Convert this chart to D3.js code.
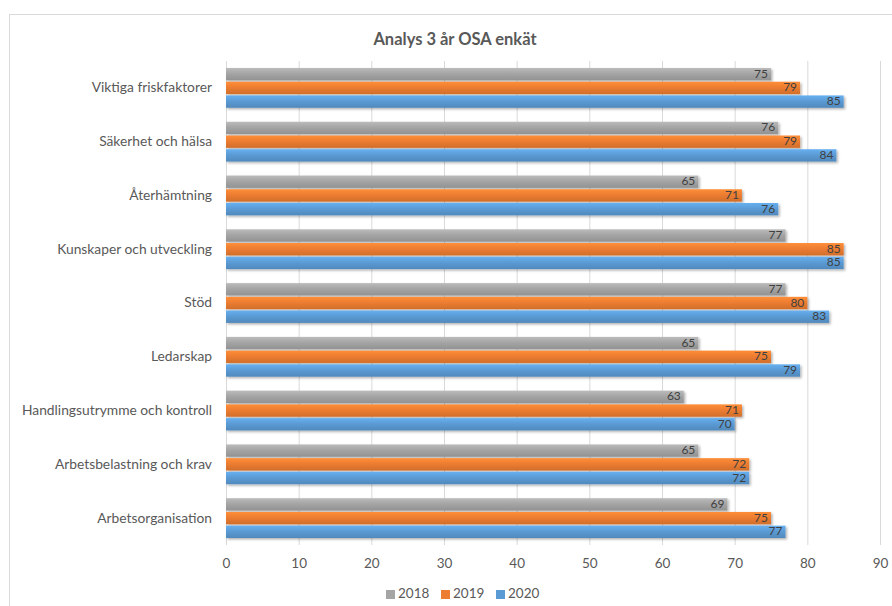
<!DOCTYPE html>
<html><head><meta charset="utf-8">
<script src="https://cdn.jsdelivr.net/npm/d3@7"></script>
<style>
html,body{margin:0;padding:0;background:#fff;}
svg{display:block;font-family:Lato,"Open Sans",sans-serif;}
</style></head>
<body>
<svg id="c" width="892" height="606"></svg>
<script>
const categories = ["Viktiga friskfaktorer","Säkerhet och hälsa","Återhämtning","Kunskaper och utveckling","Stöd","Ledarskap","Handlingsutrymme och kontroll","Arbetsbelastning och krav","Arbetsorganisation"];
const seriesNames = ["2018","2019","2020"];
const values2018 = [75,76,65,77,77,65,63,65,69];
const values2019 = [79,79,71,85,80,75,71,72,75];
const values2020 = [85,84,76,85,83,79,70,72,77];
const xTicks = [0,10,20,30,40,50,60,70,80,90];
const title = "Analys 3 år OSA enkät";

const colors = {"2018":"#a5a5a5","2019":"#ed7d31","2020":"#5b9bd5"};
const seriesValues = {"2018":values2018,"2019":values2019,"2020":values2020};

const svg = d3.select("#c");
svg.append("rect").attr("x",9.5).attr("y",14.5).attr("width",900).attr("height",620)
  .attr("fill","#fff").attr("stroke","#d9d9d9");

const defs = svg.append("defs");
seriesNames.forEach(s=>{
  const c = d3.color(colors[s]);
  const g = defs.append("linearGradient").attr("id","g"+s).attr("x1",0).attr("y1",0).attr("x2",0).attr("y2",1);
  g.append("stop").attr("offset","0%").attr("stop-color",c.brighter(0.35));
  g.append("stop").attr("offset","45%").attr("stop-color",c);
  g.append("stop").attr("offset","100%").attr("stop-color",c.darker(0.35));
});
const f = defs.append("filter").attr("id","sh").attr("x","-5%").attr("y","-30%").attr("width","110%").attr("height","170%");
f.append("feDropShadow").attr("dx",1.5).attr("dy",1.5).attr("stdDeviation",1).attr("flood-color","#000").attr("flood-opacity",0.3);

const x = d3.scaleLinear().domain([0,90]).range([226,880]);
const y = d3.scaleBand().domain(categories).range([61,545]).paddingInner(0.26).paddingOuter(0.13);
const ys = d3.scaleBand().domain(seriesNames).range([0,y.bandwidth()]).paddingInner(0.1);

svg.append("text").attr("x",455).attr("y",45).attr("text-anchor","middle")
  .attr("font-size",16.5).attr("font-weight","bold").attr("fill","#595959").text(title);

svg.append("g").selectAll("line").data(xTicks).join("line")
  .attr("x1",d=>x(d)+0.5).attr("x2",d=>x(d)+0.5).attr("y1",61).attr("y2",545)
  .attr("stroke","#d9d9d9").attr("stroke-width",1);

const xa = svg.append("g").attr("transform","translate(0,545)")
  .call(d3.axisBottom(x).tickValues(xTicks).tickSize(0).tickPadding(13));
xa.select(".domain").remove();
xa.selectAll("text").attr("font-size",13.5).attr("fill","#595959").attr("font-family","Lato,'Open Sans',sans-serif");

const ya = svg.append("g").attr("transform","translate(226,0)")
  .call(d3.axisLeft(y).tickSize(0).tickPadding(14));
ya.select(".domain").remove();
ya.selectAll("text").attr("font-size",13.8).attr("fill","#595959").attr("font-family","Lato,'Open Sans',sans-serif");

const rows = [];
categories.forEach((c,i)=>seriesNames.forEach(s=>rows.push({c,s,v:seriesValues[s][i]})));
const bars = svg.append("g");
bars.selectAll("rect").data(rows).join("rect")
  .attr("x",x(0)).attr("y",d=>y(d.c)+ys(d.s)).attr("width",d=>x(d.v)-x(0)).attr("height",ys.bandwidth())
  .attr("fill",d=>"url(#g"+d.s+")").attr("filter","url(#sh)");
bars.selectAll("text").data(rows).join("text")
  .attr("x",d=>x(d.v)-3).attr("y",d=>y(d.c)+ys(d.s)+ys.bandwidth()/2+0.5)
  .attr("dominant-baseline","middle").attr("text-anchor","end")
  .attr("font-size",12).attr("fill","#404040").text(d=>d.v);

const lg = svg.append("g").attr("transform","translate(386,595)");
const items = lg.selectAll("g").data(seriesNames).join("g").attr("transform",(d,i)=>`translate(${i*55},0)`);
items.append("rect").attr("x",0).attr("y",-5).attr("width",9).attr("height",9).attr("fill",d=>colors[d]);
items.append("text").attr("x",12).attr("y",0).attr("dominant-baseline","middle")
  .attr("font-size",13.5).attr("fill","#595959").text(d=>d);
</script>
</body></html>
